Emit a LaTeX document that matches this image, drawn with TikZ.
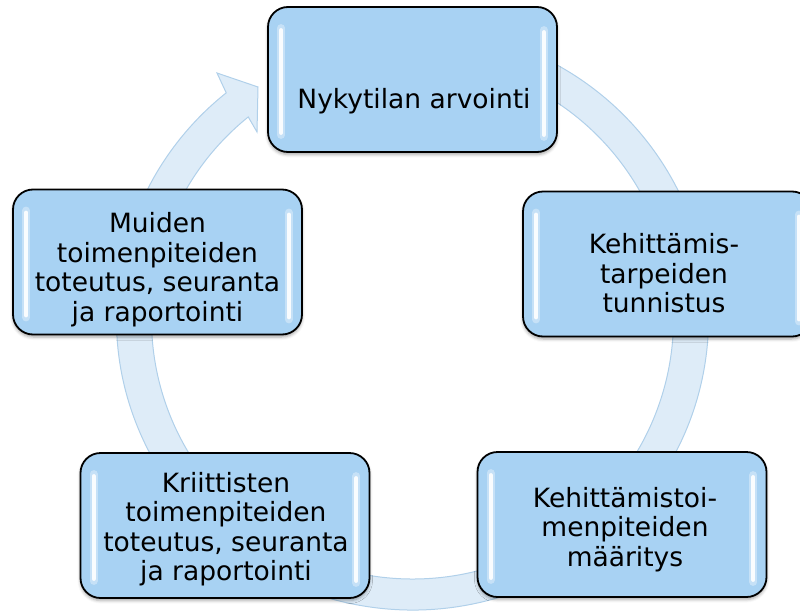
\documentclass[tikz,border=0pt]{standalone}
\usepackage{fontspec}
\setmainfont{DejaVu Sans}
\usetikzlibrary{calc,shadows.blur}
\definecolor{boxfill}{RGB}{168,210,243}
\definecolor{ringfill}{RGB}{222,236,248}
\definecolor{ringedge}{RGB}{176,208,234}
\begin{document}
\begin{tikzpicture}[x=1pt,y=-1pt,
  stagebox/.style={draw=black, line width=1.8pt, rounded corners=20pt,
    fill=boxfill, minimum width=289pt, minimum height=145pt, inner sep=0pt,
    blur shadow={shadow xshift=0pt, shadow yshift=-2.5pt,
      shadow blur radius=3pt, shadow opacity=35}},
  stagetext/.style={font=\fontsize{26.5}{29.5}\selectfont, align=center,
    text=black, inner sep=0pt},
  glosshalo/.style={white, line width=8pt, line cap=round, opacity=0.35},
  gloss/.style={white, line width=4pt, line cap=round, opacity=0.9}]

\useasboundingbox (0,0) rectangle (800,613);
\clip (0,0) rectangle (800,613);

% circular arrow running clockwise behind the stages
\coordinate (ctr) at (412.5,319);
\coordinate (wingout) at (217,73);
\coordinate (tip) at (258,87);
\coordinate (wingin) at (257,132);
\filldraw[fill=ringfill, draw=ringedge, line width=1pt]
  (ctr) ++(-80:296 and 291)
  arc[start angle=-80, end angle=231, x radius=296, y radius=291]
  -- (wingout) -- (tip) -- (wingin)
  -- ($(ctr)+(231:261 and 260)$)
  arc[start angle=231, end angle=-80, x radius=261, y radius=260]
  -- cycle;

% stages
\node[stagebox] (b1) at (412.5,79.5) {};
\node[stagebox] (b2) at (667.5,264) {};
\node[stagebox] (b3) at (622,524.5) {};
\node[stagebox] (b4) at (225,525.5) {};
\node[stagebox] (b5) at (157.5,262) {};

% glossy highlights along the inner side edges
\foreach \b in {b1,b2,b3,b4,b5}{
  \draw[glosshalo] ([xshift=14pt,yshift=-22pt]\b.north west) -- ([xshift=14pt,yshift=18pt]\b.south west);
  \draw[glosshalo] ([xshift=-14pt,yshift=-24pt]\b.north east) -- ([xshift=-14pt,yshift=16pt]\b.south east);
  \draw[gloss] ([xshift=14pt,yshift=-24pt]\b.north west) -- ([xshift=14pt,yshift=20pt]\b.south west);
  \draw[gloss] ([xshift=-14pt,yshift=-26pt]\b.north east) -- ([xshift=-14pt,yshift=18pt]\b.south east);
}

% stage labels
\node[stagetext] (t1) at (414,101.5) {Nykytilan arvointi};
\node[stagetext] (t2) at (664,273.5) {Kehittämis-\\tarpeiden\\tunnistus};
\node[stagetext] (t3) at (625,529.5) {Kehittämistoi-\\menpiteiden\\määritys};
\node[stagetext] (t4) at (226,529) {Kriittisten\\toimenpiteiden\\toteutus, seuranta\\ja raportointi};
\node[stagetext] (t5) at (157.5,269.5) {Muiden\\toimenpiteiden\\toteutus, seuranta\\ja raportointi};
\end{tikzpicture}
\end{document}
